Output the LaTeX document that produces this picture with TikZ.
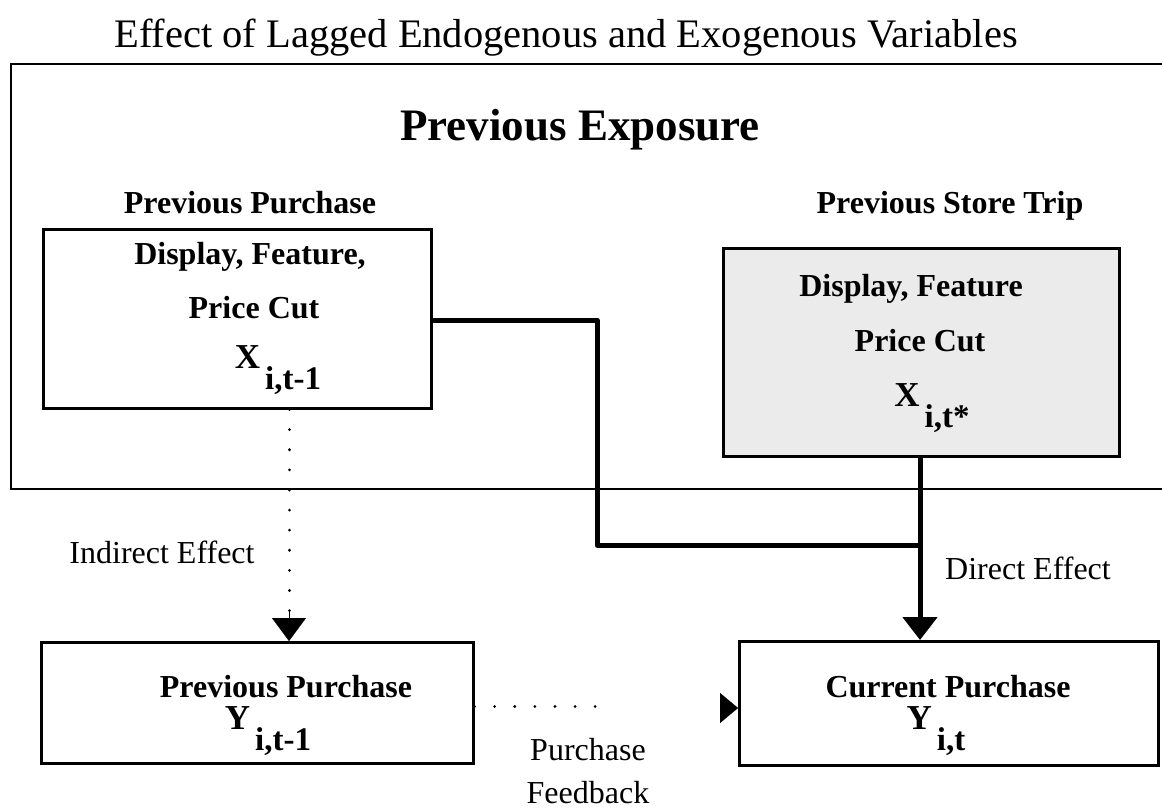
\documentclass[tikz,border=0pt]{standalone}
\usepackage{fontspec}
\setmainfont{Liberation Serif}
\usetikzlibrary{arrows.meta,calc}
% bold symbol with a lowered subscript, e.g. X_{i,t-1}
\newcommand\lagvar[2]{#1\hspace{5pt}\raisebox{-21pt}{\fontsize{33}{33}\selectfont\bfseries #2}}
\begin{document}
\begin{tikzpicture}[x=1pt,y=-1pt,
  box/.style={draw=black, line width=2.5pt, inner sep=0pt, anchor=north west},
  bold txt/.style={font=\fontsize{32}{38}\selectfont\bfseries, inner sep=0pt, anchor=base},
  plain txt/.style={font=\fontsize{32}{38}\selectfont, inner sep=0pt, anchor=base},
  var txt/.style={font=\fontsize{35}{40}\selectfont\bfseries, inner sep=0pt, anchor=base},
  heavy link/.style={line width=5pt},
  dot link/.style={line width=3pt, line cap=round, dash pattern=on 0.1pt off 20pt},
  down head/.style={-{Triangle[width=34pt,length=23pt]}},
  side head/.style={-{Triangle[width=30pt,length=18pt]}},
]
\useasboundingbox (0,0) rectangle (1162,809);

% title
\node[plain txt, font=\fontsize{40.5}{44}\selectfont] (title) at (566,47) {Effect of Lagged Endogenous and Exogenous Variables};

% frame of the previous-exposure block (open to the right)
\draw[line width=2.5pt] (1162,64) -- (11,64) -- (11,489) -- (1162,489);
\node[bold txt, font=\fontsize{45}{50}\selectfont\bfseries] (expo) at (580,140) {Previous Exposure};

% previous purchase (exogenous variables)
\node[bold txt] (pplabel) at (250,213) {Previous Purchase};
\node[box, minimum width=388pt, minimum height=179pt] (pp) at (42,228) {};
\node[bold txt] (pp1) at (250,264) {Display, Feature,};
\node[bold txt] (pp2) at (254,318) {Price Cut};
\node[var txt] (pp3) at (278,368) {\lagvar{X}{i,t-1}};

% previous store trip
\node[bold txt] (stlabel) at (950,213) {Previous Store Trip};
\node[box, minimum width=396pt, minimum height=208pt, fill=black!8] (st) at (722,247) {};
\node[bold txt] (st1) at (911,296) {Display, Feature};
\node[bold txt] (st2) at (920,351) {Price Cut};
\node[var txt] (st3) at (932,406) {\lagvar{X}{i,t*}};

% lower boxes
\node[box, minimum width=432pt, minimum height=121pt] (yp) at (40,641) {};
\node[bold txt] (yp1) at (286,697) {Previous Purchase};
\node[var txt] (yp2) at (268,729) {\lagvar{Y}{i,t-1}};

\node[box, minimum width=419pt, minimum height=124pt] (yc) at (738,640) {};
\node[bold txt] (yc1) at (948,697) {Current Purchase};
\node[var txt] (yc2) at (936,729) {\lagvar{Y}{i,t}};

% direct effect
\coordinate (join) at (920,545);
\draw[heavy link, line join=round] (pp.east |- 0,320) -- (597,320) -- (597,545) -- (join);
\draw[heavy link, down head] (st.south -| join) -- (yc.north -| join);
\node[plain txt] (direct) at (1028,579) {Direct Effect};

% indirect effect
\draw[dot link] (pp.south -| 289,0) -- (289,612);
\draw[line width=0.1pt, down head] (289,612) -- (yp.north -| 289,0);
\node[plain txt] (indirect) at (162,563) {Indirect Effect};

% purchase feedback
\coordinate (fbend) at (600,706);
\draw[dot link] (yp.east |- fbend) -- (fbend);
\draw[line width=0.1pt, side head] ($(yc.west |- 0,708)+(-18,0)$) -- (yc.west |- 0,708);
\node[plain txt] (fb1) at (588,760) {Purchase};
\node[plain txt] (fb2) at (588,803) {Feedback};
\end{tikzpicture}
\end{document}
